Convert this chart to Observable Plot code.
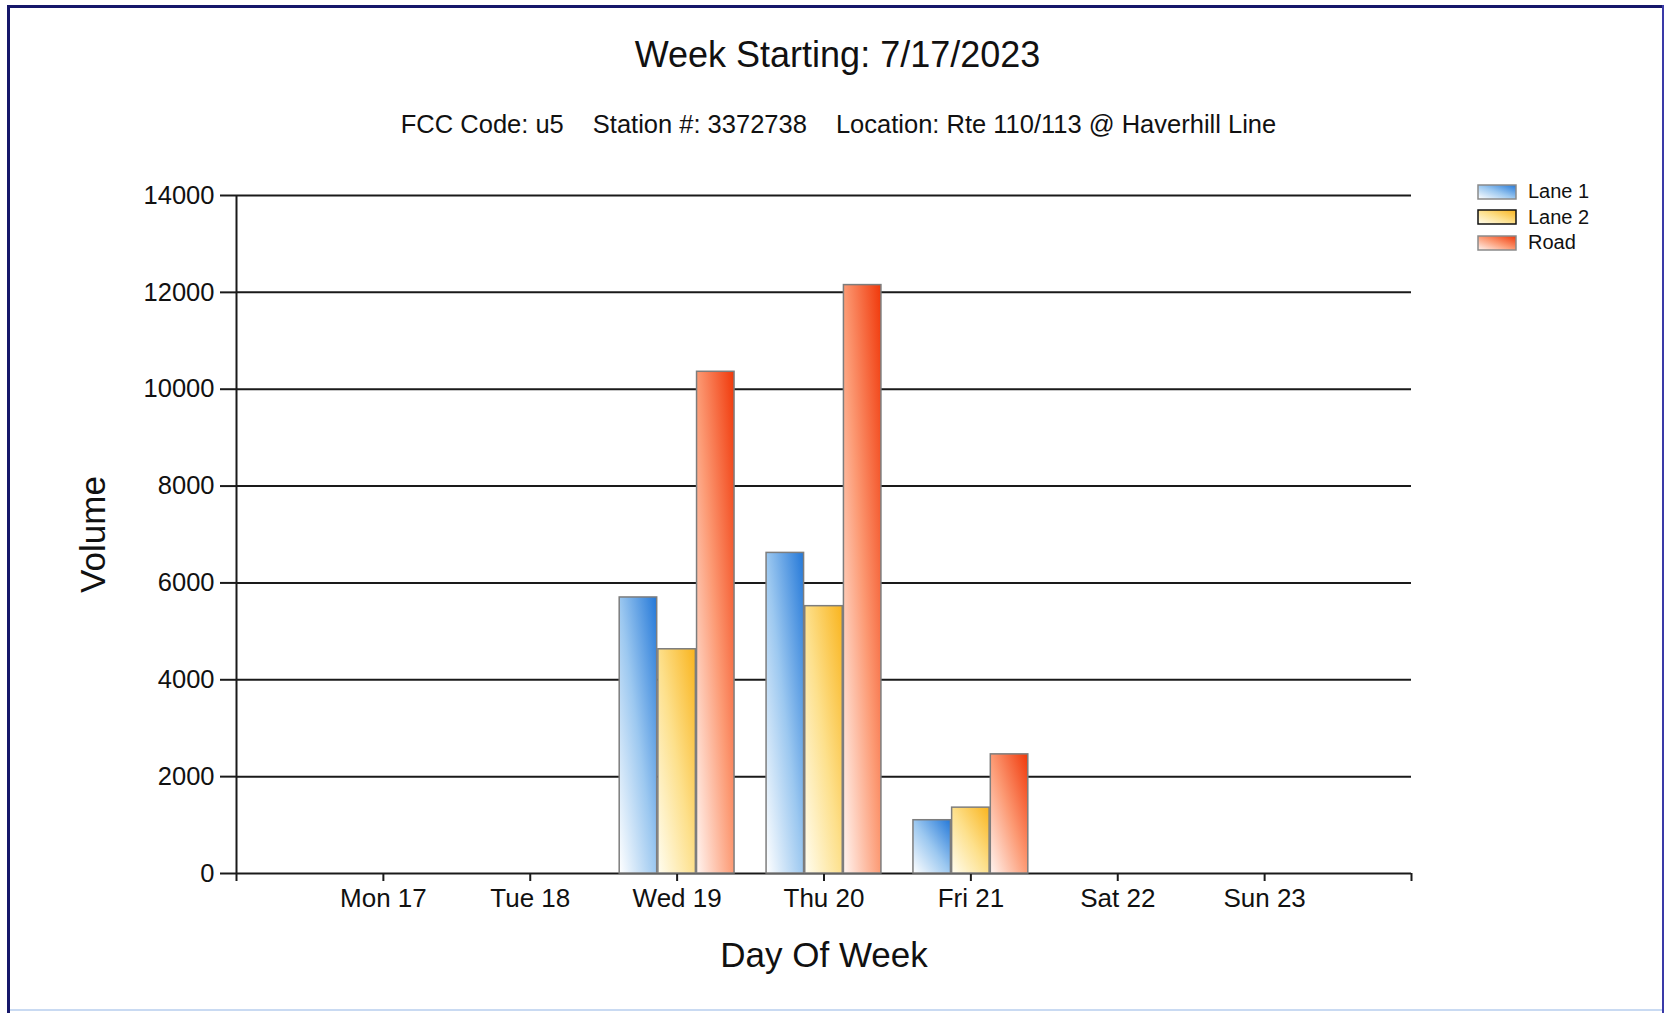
<!DOCTYPE html>
<html>
<head>
<meta charset="utf-8">
<script src="https://cdn.jsdelivr.net/npm/d3@7"></script>
<script src="https://cdn.jsdelivr.net/npm/@observablehq/plot@0.6"></script>
<style>
  html, body { margin: 0; padding: 0; background: #fff; }
  #page { position: relative; width: 1667px; height: 1013px; overflow: hidden;
          font-family: "Liberation Sans", Arial, Helvetica, sans-serif; color: #111; background: #fff; }
  .bd { position: absolute; }
  #bTop { left: 7px; top: 5px; width: 1657px; height: 3px; background: #16176a; }
  #bLeft { left: 7px; top: 5px; width: 3px; height: 1008px; background: #16176a; }
  #bRight { left: 1662px; top: 5px; width: 2px; height: 1008px; background: #3a3aa8; }
  #bBottom { left: 10px; top: 1009px; width: 1652px; height: 2px; background: #c9daf2; }
  #title { position: absolute; left: 4px; top: 35px; width: 1667px; text-align: center;
           font-size: 36px; line-height: 40px; }
  #subtitle { position: absolute; left: 5px; top: 109px; width: 1667px; text-align: center;
              font-size: 25.5px; line-height: 30px; white-space: pre; }
  #subtitle span + span { margin-left: 29px; }
  #chart { position: absolute; left: 0; top: 150px; }
  #legend { position: absolute; left: 1477px; top: 179px; }
  .lg-row { display: flex; align-items: center; height: 25.5px; }
  .lg-row span { font-size: 20px; margin-left: 11px; line-height: 25px; }
  #chart g[aria-label="y-axis label"] text,
  #chart g[aria-label="x-axis label"] text { font-size: 35px; }
  #chart g[aria-label="x-axis tick label"] text { font-size: 26px; }
</style>
</head>
<body>
<svg width="0" height="0" style="position:absolute">
  <defs>
    <linearGradient id="gLane1" x1="0" y1="1" x2="1" y2="0">
      <stop offset="0" stop-color="#ffffff"/>
      <stop offset="0.5" stop-color="#9cc8f0"/>
      <stop offset="1" stop-color="#2478d8"/>
    </linearGradient>
    <linearGradient id="gLane2" x1="0" y1="1" x2="1" y2="0">
      <stop offset="0" stop-color="#fffdf0"/>
      <stop offset="0.5" stop-color="#fde08c"/>
      <stop offset="1" stop-color="#f9b41e"/>
    </linearGradient>
    <linearGradient id="gRoad" x1="0" y1="1" x2="1" y2="0">
      <stop offset="0" stop-color="#fff4f0"/>
      <stop offset="0.5" stop-color="#fc9a74"/>
      <stop offset="1" stop-color="#f0380a"/>
    </linearGradient>
  </defs>
</svg>
<div id="page">
  <div class="bd" id="bTop"></div>
  <div class="bd" id="bLeft"></div>
  <div class="bd" id="bRight"></div>
  <div class="bd" id="bBottom"></div>
  <div id="title"></div>
  <div id="subtitle"></div>
  <div id="chart"></div>
  <div id="legend"></div>
</div>
<script>
// ---- data ----
const titleText = "Week Starting: 7/17/2023";
const subtitleParts = ["FCC Code: u5", "Station #: 3372738", "Location: Rte 110/113 @ Haverhill Line"];
const days = ["Mon 17", "Tue 18", "Wed 19", "Thu 20", "Fri 21", "Sat 22", "Sun 23"];
const series = ["Lane 1", "Lane 2", "Road"];
const lane1 = [null, null, 5700, 6620, 1100, null, null];
const lane2 = [null, null, 4630, 5520, 1360, null, null];
const road  = [null, null, 10360, 12150, 2460, null, null];
const yTicks = [0, 2000, 4000, 6000, 8000, 10000, 12000, 14000];
const seriesFills = ["url(#gLane1)", "url(#gLane2)", "url(#gRoad)"];
const swatchStrokes = ["#8a8a8a", "#111111", "#8a8a8a"];

document.getElementById("title").textContent = titleText;
const sub = d3.select("#subtitle");
subtitleParts.forEach(t => sub.append("span").text(t));

// Day categories sit at positions 1..7 of a 0..8 day axis; each day's group
// takes GROUP of a day slot, split evenly among the series.
const GROUP = 0.79, GAP = 0.008;
const slot = GROUP / series.length;
const valuesBySeries = [lane1, lane2, road];
const rows = [];
days.forEach((day, i) => {
  series.forEach((s, j) => {
    const start = (i + 1) - GROUP / 2 + j * slot;
    rows.push({day, series: s, value: valuesBySeries[j][i], x1: start + GAP / 2, x2: start + slot - GAP / 2});
  });
});
const xTicks = d3.range(days.length + 2);

const chart = Plot.plot({
  width: 1667,
  height: 840,
  marginLeft: 236,
  marginRight: 256,
  marginTop: 45,
  marginBottom: 117,
  style: {fontFamily: '"Liberation Sans", Arial, Helvetica, sans-serif', fontSize: "25.5px", color: "#111", background: "transparent", overflow: "visible"},
  x: {domain: [0, days.length + 1]},
  y: {domain: [0, 14000]},
  color: {domain: series, range: seriesFills},
  marks: [
    Plot.ruleY(yTicks, {stroke: "#1a1a1a", strokeWidth: 2}),
    Plot.ruleX([0], {stroke: "#1a1a1a", strokeWidth: 2}),
    Plot.axisY({ticks: yTicks, tickSize: 16, tickPadding: 6, tickFormat: d => String(d),
                label: "Volume", labelAnchor: "center", labelArrow: "none", labelOffset: 156, stroke: "#1a1a1a", strokeWidth: 2}),
    Plot.axisX({ticks: xTicks, tickSize: 8, tickPadding: 7, tickFormat: i => days[i - 1] ?? "",
                label: "Day Of Week", labelAnchor: "center", labelArrow: "none", labelOffset: 93, stroke: "#1a1a1a", strokeWidth: 2}),
    Plot.rect(rows, {x1: "x1", x2: "x2", y1: 0, y2: "value", fill: "series", stroke: "#7d7d7d", strokeWidth: 1.5})
  ]
});
document.getElementById("chart").appendChild(chart);

// legend
const legend = d3.select("#legend");
series.forEach((s, j) => {
  const row = legend.append("div").attr("class", "lg-row");
  const sw = row.append("svg").attr("width", 40).attr("height", 16);
  sw.append("rect").attr("x", 1).attr("y", 1).attr("width", 38).attr("height", 14)
    .attr("fill", seriesFills[j]).attr("stroke", swatchStrokes[j]).attr("stroke-width", 1.5);
  row.append("span").text(s);
});
</script>
</body>
</html>
